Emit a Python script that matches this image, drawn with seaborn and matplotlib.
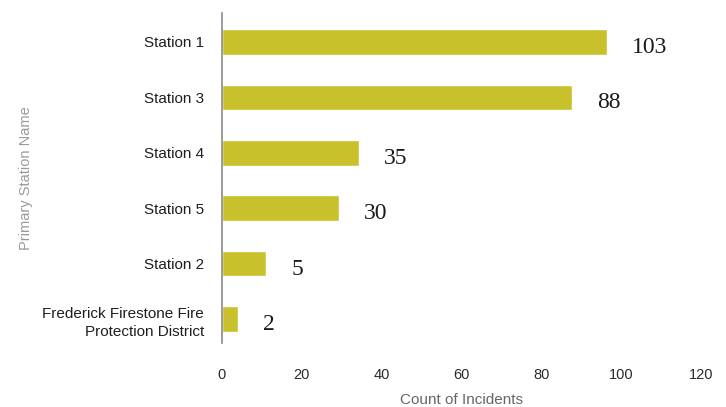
import matplotlib
matplotlib.use("Agg")
import matplotlib.pyplot as plt
import seaborn as sns
import pandas as pd

stations = ["Station 1", "Station 3", "Station 4", "Station 5", "Station 2",
            "Frederick Firestone Fire\nProtection District"]
bar_counts = [96.4, 87.6, 34.2, 29.2, 11.1, 4.1]
label_texts = ["103", "88", "35", "30", "5", "2"]
x_ticks = [0, 20, 40, 60, 80, 100, 120]

df = pd.DataFrame({"station": stations, "count": bar_counts})

sns.set_theme(style="white")
plt.rcParams["font.family"] = ["Liberation Sans", "DejaVu Sans"]

fig = plt.figure(figsize=(7.26, 4.07), dpi=100)
ax = fig.add_axes([222 / 726, 1 - 343 / 407, (701 - 222) / 726, (343 - 13) / 407])

sns.barplot(data=df, y="station", x="count", orient="h", color="#c9c12c",
            saturation=1, width=0.46, ax=ax)

ax.set_xlim(0, 120)
ax.set_ylim(5.43, -0.52)
ax.set_xticks(x_ticks)
ax.set_xticklabels([str(t) for t in x_ticks])

for i, (v, t) in enumerate(zip(bar_counts, label_texts)):
    ax.annotate(t, xy=(v, i), xytext=(18, -4), textcoords="offset points",
                ha="left", va="center", fontsize=17, color="#1a1a1a",
                family=["Liberation Serif", "DejaVu Serif"])

for s in ["top", "right", "bottom"]:
    ax.spines[s].set_visible(False)
ax.spines["left"].set_color("#8a8a8a")
ax.spines["left"].set_linewidth(1.2)

ax.tick_params(axis="y", length=0, pad=13, labelsize=11, labelcolor="#1e1e1e")
ax.tick_params(axis="x", length=0, pad=18, labelsize=10.5, labelcolor="#2a2a2a")
for lab in ax.get_yticklabels():
    lab.set_linespacing(1.35)

ax.set_xlabel("Count of Incidents", fontsize=11, color="#666666", labelpad=8)
ax.set_ylabel("Primary Station Name", fontsize=10.5, color="#9a9a9a")
ax.yaxis.set_label_coords(-0.395, 0.50)

fig.savefig("out.png", dpi=100)
